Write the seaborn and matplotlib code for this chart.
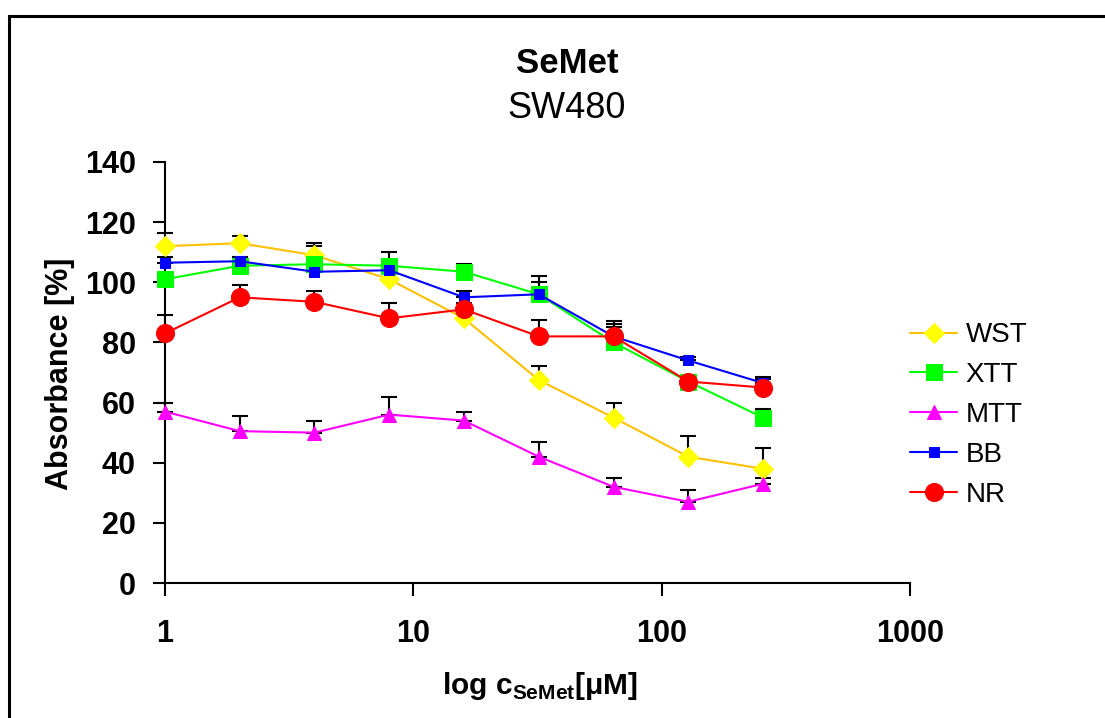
import numpy as np
import pandas as pd
import matplotlib
matplotlib.use('Agg')
import matplotlib.pyplot as plt
import matplotlib.ticker as mticker
from matplotlib.patches import Rectangle
import seaborn as sns

# Data
conc = [1, 2, 4, 8, 16, 32, 64, 128, 256]
wst = [112, 113, 109, 101, 88, 67.5, 55, 42, 38]
xtt = [101, 105.5, 106, 105.5, 103.5, 96, 80, 67, 55]
mtt = [57, 50.5, 50, 56, 54, 42, 32, 27, 33]
bb = [106.5, 107, 103.5, 104, 95, 96, 82, 74, 66.5]
nr = [83, 95, 93.5, 88, 91, 82, 82, 67, 65]

wst_err = [4.5, 2.5, 4, 2, 2, 4.5, 5, 7, 7]
xtt_err = [2, 2, 6, 4.5, 2.5, 6, 6, 2, 3]
mtt_err = [3, 5, 4, 6, 3, 5, 3, 4, 2]
bb_err = [2, 1.5, 3, 2, 2, 4, 3, 1, 2]
nr_err = [6, 4, 3.5, 5, 2, 5.5, 5, 1, 3]

series_names = ['WST', 'XTT', 'MTT', 'BB', 'NR']
x_ticks = [1, 10, 100, 1000]
y_ticks = [0, 20, 40, 60, 80, 100, 120, 140]

sns.set_style('ticks')
plt.rcParams['font.family'] = ['Liberation Sans', 'DejaVu Sans']
plt.rcParams['mathtext.fontset'] = 'custom'
plt.rcParams['mathtext.rm'] = 'Liberation Sans'
plt.rcParams['mathtext.bf'] = 'Liberation Sans:bold'
plt.rcParams['text.color'] = 'black'
plt.rcParams['xtick.color'] = 'black'
plt.rcParams['ytick.color'] = 'black'
plt.rcParams['xtick.labelcolor'] = 'black'
plt.rcParams['ytick.labelcolor'] = 'black'

fig = plt.figure(figsize=(11.05, 7.18), dpi=100)
ax = fig.add_axes([0.1493, 0.188, 0.6742, 0.5864])

styles = {
    'WST': dict(color='#FFC000', marker='D', markersize=10, mfc='#FFFF00', mec='#FFFF00'),
    'XTT': dict(color='#00FF00', marker='s', markersize=11.5, mfc='#00FF00', mec='#00FF00'),
    'MTT': dict(color='#FF00FF', marker='^', markersize=9.5, mfc='#FF00FF', mec='#FF00FF'),
    'BB': dict(color='#0000FF', marker='s', markersize=7, mfc='#0000FF', mec='#0000FF'),
    'NR': dict(color='#FF0000', marker='o', markersize=13, mfc='#FF0000', mec='#FF0000'),
}
values = {'WST': wst, 'XTT': xtt, 'MTT': mtt, 'BB': bb, 'NR': nr}
errors = {'WST': wst_err, 'XTT': xtt_err, 'MTT': mtt_err, 'BB': bb_err, 'NR': nr_err}

for name in series_names:
    # upper error bars only
    ax.errorbar(conc, values[name], yerr=[np.zeros(len(conc)), errors[name]],
                fmt='none', ecolor='black', elinewidth=1.5, capsize=6, capthick=1.5, zorder=1)
for name in series_names:
    df = pd.DataFrame({'conc': conc, 'val': values[name]})
    sns.lineplot(data=df, x='conc', y='val', ax=ax, label=name, lw=1.5, zorder=3,
                 **styles[name])

ax.set_xscale('log')
ax.set_xlim(1, 1000)
ax.set_ylim(0, 140)
ax.xaxis.set_major_locator(mticker.FixedLocator(x_ticks))
ax.xaxis.set_major_formatter(mticker.FixedFormatter([str(t) for t in x_ticks]))
ax.xaxis.set_minor_locator(mticker.NullLocator())
ax.set_yticks(y_ticks)
ax.tick_params(axis='x', direction='out', length=9, width=1.5, pad=17, labelsize=22)
ax.tick_params(axis='y', direction='out', length=9, width=1.5, pad=12, labelsize=22)
for lbl in ax.get_xticklabels() + ax.get_yticklabels():
    lbl.set_fontweight('bold')
for side in ['top', 'right']:
    ax.spines[side].set_visible(False)
for side in ['left', 'bottom']:
    ax.spines[side].set_linewidth(1.5)
    ax.spines[side].set_color('black')
for art in ax.lines + ax.collections:
    art.set_clip_on(False)

ax.set_xlabel('')
ax.set_ylabel('')
fig.text(0.054, 0.479, 'Absorbance [%]', rotation=90, ha='center', va='center',
         fontsize=22, fontweight='bold')
fig.text(0.489, 0.044, r'log c$_{\mathbf{SeMet}}$[μM]', ha='center', va='center',
         fontsize=21.5, fontweight='bold')
fig.text(0.513, 0.912, 'SeMet', ha='center', va='center', fontsize=25, fontweight='bold')
fig.text(0.513, 0.849, 'SW480', ha='center', va='center', fontsize=26)

ax.legend(loc='upper left', bbox_to_anchor=(0.801, 0.586), bbox_transform=fig.transFigure,
          frameon=False, fontsize=20, labelcolor='black', labelspacing=0.5,
          handlelength=1.7, handletextpad=0.3)

fig.patches.append(Rectangle((0.008, -0.1), 1.2, 1.0777, transform=fig.transFigure,
                             fill=False, lw=2.2, edgecolor='black', clip_on=False))

plt.savefig('out.png', dpi=100)
